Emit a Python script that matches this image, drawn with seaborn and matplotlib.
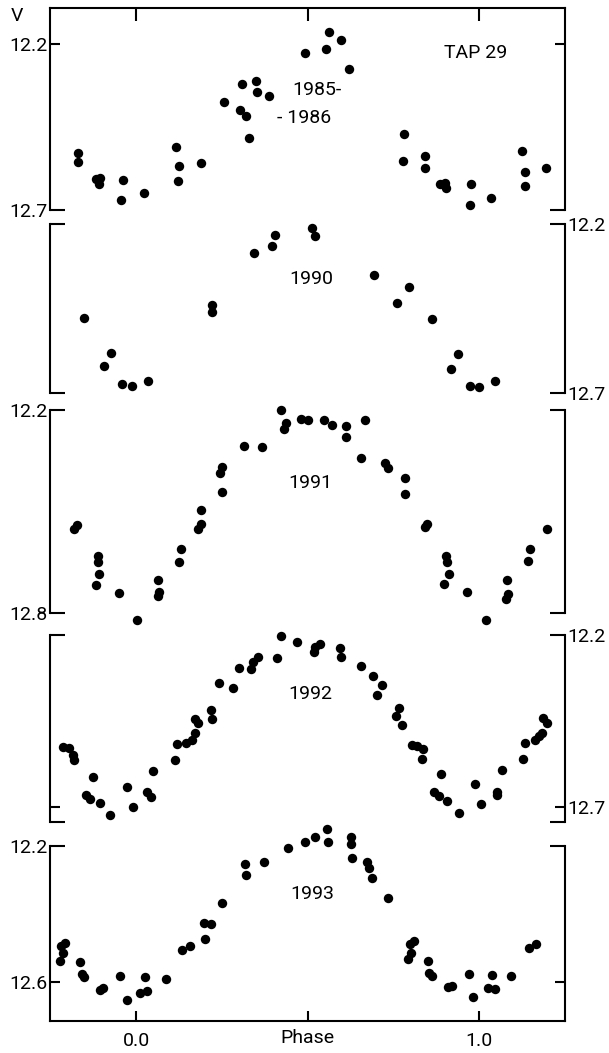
import matplotlib
matplotlib.use('Agg')
import pandas as pd
import seaborn as sns
import matplotlib.pyplot as plt

# light curves of TAP 29, V magnitude against phase
YEARS = ['1985-1986', '1990', '1991', '1992', '1993']

phase_8586 = [-0.168, -0.168, -0.117, -0.108, -0.104, -0.038, -0.043, 0.023,
              0.116, 0.125, 0.122, 0.188, 0.256, 0.309, 0.304, 0.321, 0.330,
              0.349, 0.352, 0.386, 0.491, 0.554, 0.562, 0.597, 0.619, 0.782,
              0.779, 0.842, 0.842, 0.887, 0.901, 0.904, 0.975, 0.972, 1.035,
              1.125, 1.132, 1.132, 1.195]
v_8586 = [12.529, 12.556, 12.608, 12.622, 12.603, 12.610, 12.670, 12.650,
          12.509, 12.569, 12.612, 12.559, 12.376, 12.320, 12.399, 12.416, 12.484,
          12.311, 12.346, 12.356, 12.226, 12.216, 12.165, 12.188, 12.276, 12.471,
          12.552, 12.539, 12.574, 12.623, 12.618, 12.635, 12.623, 12.685, 12.665,
          12.522, 12.585, 12.627, 12.574]

phase_1990 = [-0.151, -0.074, -0.094, -0.040, -0.011, 0.036, 0.222, 0.222,
              0.344, 0.395, 0.404, 0.514, 0.520, 0.694, 0.795, 0.761, 0.861,
              0.939, 0.918, 0.973, 0.998, 1.047]
v_1990 = [12.477, 12.583, 12.621, 12.673, 12.680, 12.665, 12.441, 12.460,
          12.286, 12.264, 12.232, 12.213, 12.235, 12.351, 12.387, 12.433, 12.480,
          12.584, 12.629, 12.678, 12.682, 12.665]

phase_1991 = [-0.180, -0.172, -0.111, -0.111, -0.108, -0.117, -0.051, 0.002,
              0.065, 0.063, 0.067, 0.124, 0.131, 0.181, 0.190, 0.190, 0.245,
              0.249, 0.249, 0.313, 0.366, 0.423, 0.432, 0.437, 0.480, 0.501,
              0.548, 0.571, 0.611, 0.611, 0.668, 0.654, 0.725, 0.733, 0.785,
              0.784, 0.842, 0.848, 0.904, 0.907, 0.911, 0.898, 0.964, 1.020,
              1.080, 1.077, 1.085, 1.142, 1.148, 1.197]
v_1991 = [12.551, 12.539, 12.633, 12.650, 12.685, 12.716, 12.741, 12.820,
          12.702, 12.751, 12.739, 12.648, 12.611, 12.552, 12.536, 12.497, 12.387,
          12.369, 12.444, 12.306, 12.311, 12.200, 12.257, 12.239, 12.228, 12.231,
          12.231, 12.244, 12.247, 12.281, 12.231, 12.341, 12.357, 12.372, 12.402,
          12.449, 12.547, 12.537, 12.633, 12.650, 12.684, 12.713, 12.739, 12.820,
          12.702, 12.759, 12.743, 12.646, 12.611, 12.551]

phase_1992 = [-0.214, -0.197, -0.185, -0.180, -0.125, -0.146, -0.134, -0.104,
              -0.075, -0.026, -0.009, 0.033, 0.042, 0.049, 0.114, 0.119, 0.144,
              0.164, 0.173, 0.179, 0.173, 0.222, 0.218, 0.241, 0.281, 0.300,
              0.336, 0.340, 0.355, 0.412, 0.421, 0.469, 0.518, 0.522, 0.537,
              0.594, 0.597, 0.656, 0.691, 0.716, 0.702, 0.767, 0.757, 0.776,
              0.804, 0.820, 0.836, 0.833, 0.888, 0.867, 0.884, 0.907, 0.941,
              0.989, 1.006, 1.052, 1.051, 1.066, 1.129, 1.132, 1.163, 1.174,
              1.182, 1.185, 1.197]
v_1992 = [12.527, 12.529, 12.549, 12.565, 12.612, 12.666, 12.676, 12.690,
          12.724, 12.641, 12.700, 12.656, 12.671, 12.595, 12.565, 12.517, 12.514,
          12.507, 12.485, 12.456, 12.444, 12.444, 12.419, 12.339, 12.353, 12.295,
          12.300, 12.278, 12.265, 12.268, 12.202, 12.221, 12.249, 12.236, 12.226,
          12.239, 12.265, 12.290, 12.319, 12.346, 12.376, 12.412, 12.436, 12.463,
          12.519, 12.524, 12.532, 12.561, 12.604, 12.656, 12.669, 12.682, 12.718,
          12.634, 12.693, 12.656, 12.666, 12.593, 12.561, 12.514, 12.505, 12.495,
          12.485, 12.441, 12.456]

phase_1993 = [-0.222, -0.214, -0.220, -0.208, -0.165, -0.159, -0.151, -0.106,
              -0.097, -0.047, -0.028, 0.010, 0.031, 0.025, 0.088, 0.135, 0.156,
              0.201, 0.199, 0.218, 0.250, 0.317, 0.321, 0.374, 0.444, 0.491,
              0.520, 0.556, 0.560, 0.625, 0.625, 0.630, 0.673, 0.679, 0.688,
              0.733, 0.793, 0.802, 0.799, 0.810, 0.850, 0.853, 0.861, 0.910,
              0.920, 0.969, 0.983, 1.026, 1.046, 1.038, 1.094, 1.146, 1.166]
v_1993 = [12.536, 12.514, 12.492, 12.484, 12.541, 12.575, 12.584, 12.622,
          12.617, 12.580, 12.651, 12.631, 12.624, 12.584, 12.589, 12.506, 12.492,
          12.473, 12.427, 12.430, 12.367, 12.254, 12.286, 12.247, 12.205, 12.187,
          12.173, 12.151, 12.188, 12.175, 12.193, 12.236, 12.247, 12.264, 12.293,
          12.352, 12.531, 12.514, 12.486, 12.479, 12.536, 12.571, 12.582, 12.614,
          12.609, 12.575, 12.643, 12.617, 12.619, 12.577, 12.582, 12.499, 12.486]

PHASES = [phase_8586, phase_1990, phase_1991, phase_1992, phase_1993]
MAGS = [v_8586, v_1990, v_1991, v_1992, v_1993]

sns.set_style('ticks')
plt.rcParams['font.family'] = ['Roboto', 'DejaVu Sans']
plt.rcParams['font.size'] = 14
for key in ['axes.edgecolor', 'xtick.color', 'ytick.color', 'text.color',
            'axes.labelcolor']:
    plt.rcParams[key] = 'black'

fig = plt.figure(figsize=(6.09, 10.53), dpi=100)

# axes rectangles in figure fraction and y limits (faint end at bottom)
left, width = 50 / 609, 515 / 609
rects = [(0.8006, 0.1918), (0.6268, 0.1605), (0.4179, 0.1928),
         (0.2194, 0.1776), (0.0304, 0.1662)]
ylims = [(12.7, 12.092), (12.7, 12.2), (12.8, 12.2), (12.744, 12.2), (12.713, 12.2)]
# major ticks = bracket ends (long), minor = inner ticks (short)
major = [([12.7], ['12.7']), ([12.2, 12.7], ['12.2', '12.7']),
         ([12.2, 12.8], ['12.2', '12.8']), ([12.2, 12.744], ['12.2', '']),
         ([12.2], ['12.2'])]
minor = [([12.2], ['12.2']), ([], []), ([], []), ([12.7], ['12.7']), ([12.6], ['12.6'])]
label_right = [False, True, False, True, False]
year_pos = [None, (0.512, 12.363), (0.509, 12.416), (0.509, 12.373), (0.514, 12.342)]

axes = []
for i in range(5):
    bottom, height = rects[i]
    ax = fig.add_axes([left, bottom, width, height])
    df = pd.DataFrame({'phase': PHASES[i], 'V': MAGS[i]})
    sns.scatterplot(data=df, x='phase', y='V', ax=ax, color='black',
                    s=46, linewidth=0, clip_on=False)
    ax.set_xlim(-0.251, 1.25)
    ax.set_ylim(*ylims[i])

    ax.set_yticks(major[i][0])
    ax.set_yticklabels(major[i][1])
    ax.set_yticks(minor[i][0], minor=True)
    ax.set_yticklabels(minor[i][1], minor=True)
    ax.tick_params(axis='y', which='both', direction='in', left=True, right=True,
                   width=1.5, pad=1.5, labelleft=not label_right[i],
                   labelright=label_right[i])
    ax.tick_params(axis='y', which='major', length=11)
    ax.tick_params(axis='y', which='minor', length=7)

    ax.set_xticks([0.0, 0.5, 1.0])
    ax.set_xlabel('')
    ax.set_ylabel('')
    for side in ['left', 'right', 'top', 'bottom']:
        ax.spines[side].set_linewidth(1.5)
    ax.spines['top'].set_visible(i == 0)
    ax.spines['bottom'].set_visible(i == 4)
    if i == 0:
        ax.tick_params(axis='x', direction='in', top=True, bottom=False,
                       labeltop=False, labelbottom=False, length=9, width=1.5)
    elif i == 4:
        ax.set_xticklabels(['0.0', '', '1.0'])
        ax.tick_params(axis='x', direction='in', top=False, bottom=True,
                       length=7, width=1.5, pad=8)
        ax.set_xlabel('Phase', labelpad=-15)
    else:
        ax.tick_params(axis='x', top=False, bottom=False, labelbottom=False)

    if year_pos[i] is not None:
        ax.text(year_pos[i][0], year_pos[i][1], YEARS[i], ha='center', va='center')
    axes.append(ax)

top = axes[0]
top.text(0.528, 12.339, '1985-', ha='center', va='center')
top.text(0.489, 12.424, '- 1986', ha='center', va='center')
top.text(0.989, 12.228, 'TAP 29', ha='center', va='center')
top.set_ylabel('V', rotation=0, ha='center', va='center')
top.yaxis.set_label_coords(-0.064, 0.96)

fig.savefig('out.png', dpi=100)
